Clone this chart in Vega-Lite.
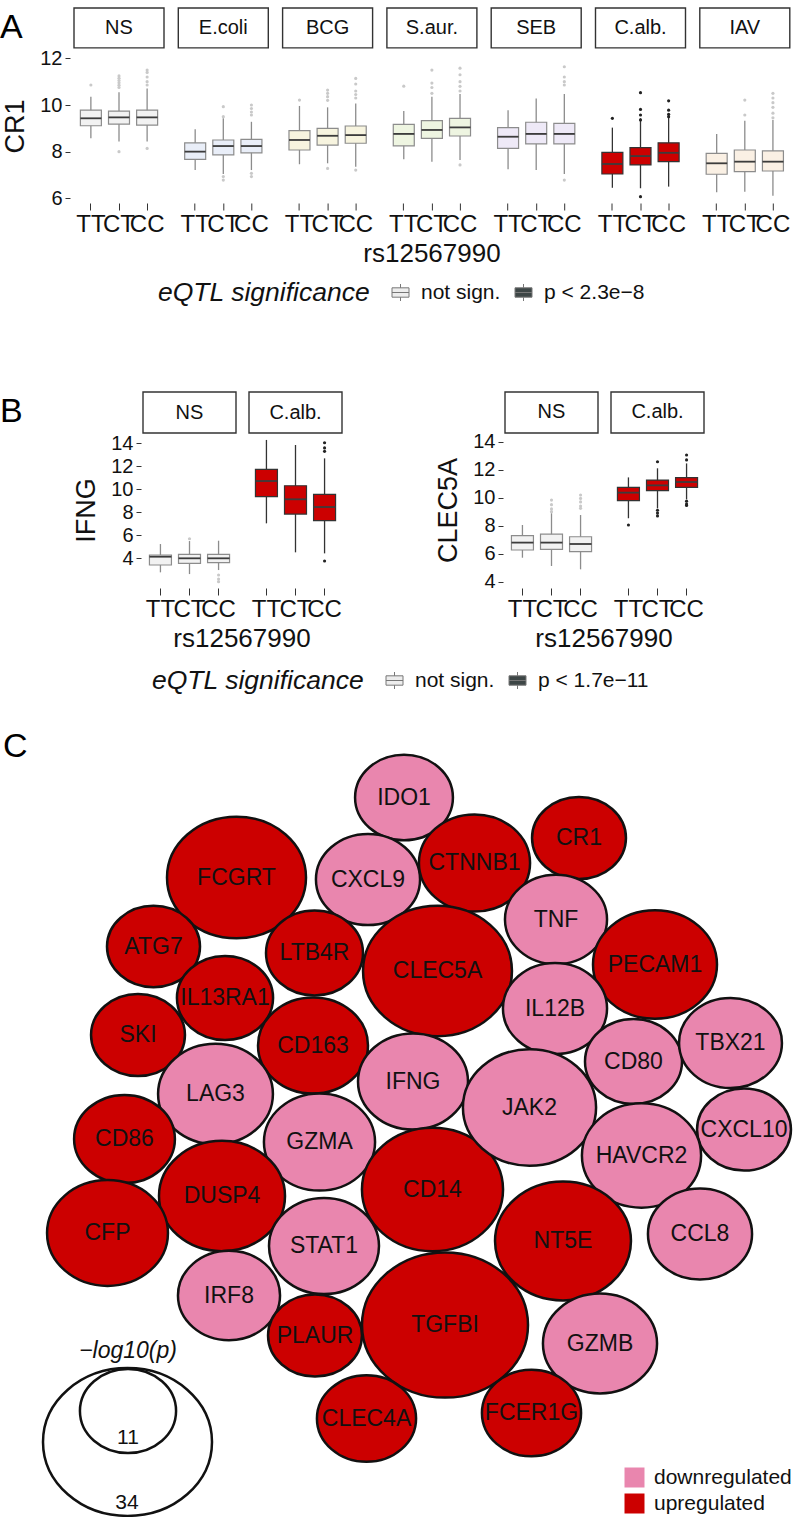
{
"$schema": "https://vega.github.io/schema/vega-lite/v6.json",
"padding": {"left": 0, "top": 7, "right": 0, "bottom": 0},
"config": {"view": {"stroke": null}, "font": "Liberation Sans", "title": {"fontWeight": "normal", "color": "#000"}},
"spacing": 0,
"resolve": {"scale": {"x": "independent", "y": "independent", "fill": "independent", "stroke": "independent", "color": "independent", "size": "independent"}},
"datasets": {
"A": [
{"k":"b","stim":"NS","geno":"TT","sig":"no","lo":8.57,"q1":9.11,"med":9.43,"q3":9.78,"hi":10.35},
{"k":"b","stim":"NS","geno":"CT","sig":"no","lo":8.43,"q1":9.18,"med":9.47,"q3":9.74,"hi":10.55},
{"k":"b","stim":"NS","geno":"CC","sig":"no","lo":8.43,"q1":9.14,"med":9.47,"q3":9.78,"hi":10.71},
{"k":"b","stim":"E.coli","geno":"TT","sig":"no","lo":7.21,"q1":7.67,"med":8.0,"q3":8.38,"hi":8.96},
{"k":"b","stim":"E.coli","geno":"CT","sig":"no","lo":7.04,"q1":7.86,"med":8.24,"q3":8.5,"hi":9.43},
{"k":"b","stim":"E.coli","geno":"CC","sig":"no","lo":7.21,"q1":7.95,"med":8.24,"q3":8.53,"hi":9.28},
{"k":"b","stim":"BCG","geno":"TT","sig":"no","lo":7.46,"q1":8.07,"med":8.5,"q3":8.9,"hi":9.96},
{"k":"b","stim":"BCG","geno":"CT","sig":"no","lo":7.5,"q1":8.28,"med":8.68,"q3":9.0,"hi":9.9},
{"k":"b","stim":"BCG","geno":"CC","sig":"no","lo":7.35,"q1":8.36,"med":8.71,"q3":9.1,"hi":10.07},
{"k":"b","stim":"S.aur.","geno":"TT","sig":"no","lo":7.67,"q1":8.25,"med":8.76,"q3":9.17,"hi":9.74},
{"k":"b","stim":"S.aur.","geno":"CT","sig":"no","lo":7.57,"q1":8.57,"med":8.93,"q3":9.33,"hi":10.35},
{"k":"b","stim":"S.aur.","geno":"CC","sig":"no","lo":7.64,"q1":8.67,"med":9.04,"q3":9.43,"hi":10.47},
{"k":"b","stim":"SEB","geno":"TT","sig":"no","lo":7.24,"q1":8.14,"med":8.64,"q3":9.03,"hi":9.78},
{"k":"b","stim":"SEB","geno":"CT","sig":"no","lo":7.21,"q1":8.33,"med":8.76,"q3":9.26,"hi":10.28},
{"k":"b","stim":"SEB","geno":"CC","sig":"no","lo":7.04,"q1":8.33,"med":8.76,"q3":9.21,"hi":10.47},
{"k":"b","stim":"C.alb.","geno":"TT","sig":"yes","lo":6.45,"q1":7.04,"med":7.47,"q3":7.97,"hi":9.03},
{"k":"b","stim":"C.alb.","geno":"CT","sig":"yes","lo":6.43,"q1":7.43,"med":7.81,"q3":8.17,"hi":9.43},
{"k":"b","stim":"C.alb.","geno":"CC","sig":"yes","lo":6.5,"q1":7.57,"med":7.95,"q3":8.38,"hi":9.57},
{"k":"b","stim":"IAV","geno":"TT","sig":"no","lo":6.26,"q1":7.03,"med":7.5,"q3":7.93,"hi":8.76},
{"k":"b","stim":"IAV","geno":"CT","sig":"no","lo":6.28,"q1":7.14,"med":7.57,"q3":8.07,"hi":9.33},
{"k":"b","stim":"IAV","geno":"CC","sig":"no","lo":6.11,"q1":7.17,"med":7.57,"q3":8.03,"hi":9.36},
{"k":"o","stim":"NS","geno":"TT","sig":"no","v":10.86},
{"k":"o","stim":"NS","geno":"CT","sig":"no","v":8.0},
{"k":"o","stim":"NS","geno":"CT","sig":"no","v":10.75},
{"k":"o","stim":"NS","geno":"CT","sig":"no","v":10.85},
{"k":"o","stim":"NS","geno":"CT","sig":"no","v":10.95},
{"k":"o","stim":"NS","geno":"CT","sig":"no","v":11.05},
{"k":"o","stim":"NS","geno":"CT","sig":"no","v":11.15},
{"k":"o","stim":"NS","geno":"CT","sig":"no","v":11.25},
{"k":"o","stim":"NS","geno":"CC","sig":"no","v":8.14},
{"k":"o","stim":"NS","geno":"CC","sig":"no","v":10.86},
{"k":"o","stim":"NS","geno":"CC","sig":"no","v":11.0},
{"k":"o","stim":"NS","geno":"CC","sig":"no","v":11.2},
{"k":"o","stim":"NS","geno":"CC","sig":"no","v":11.4},
{"k":"o","stim":"NS","geno":"CC","sig":"no","v":11.5},
{"k":"o","stim":"E.coli","geno":"CT","sig":"no","v":9.5},
{"k":"o","stim":"E.coli","geno":"CT","sig":"no","v":9.93},
{"k":"o","stim":"E.coli","geno":"CT","sig":"no","v":6.93},
{"k":"o","stim":"E.coli","geno":"CT","sig":"no","v":6.78},
{"k":"o","stim":"E.coli","geno":"CC","sig":"no","v":9.57},
{"k":"o","stim":"E.coli","geno":"CC","sig":"no","v":9.7},
{"k":"o","stim":"E.coli","geno":"CC","sig":"no","v":9.85},
{"k":"o","stim":"E.coli","geno":"CC","sig":"no","v":10.0},
{"k":"o","stim":"E.coli","geno":"CC","sig":"no","v":7.07},
{"k":"o","stim":"E.coli","geno":"CC","sig":"no","v":6.93},
{"k":"o","stim":"BCG","geno":"TT","sig":"no","v":10.21},
{"k":"o","stim":"BCG","geno":"CT","sig":"no","v":10.2},
{"k":"o","stim":"BCG","geno":"CT","sig":"no","v":10.36},
{"k":"o","stim":"BCG","geno":"CT","sig":"no","v":10.5},
{"k":"o","stim":"BCG","geno":"CT","sig":"no","v":10.64},
{"k":"o","stim":"BCG","geno":"CT","sig":"no","v":7.28},
{"k":"o","stim":"BCG","geno":"CC","sig":"no","v":10.3},
{"k":"o","stim":"BCG","geno":"CC","sig":"no","v":10.45},
{"k":"o","stim":"BCG","geno":"CC","sig":"no","v":10.6},
{"k":"o","stim":"BCG","geno":"CC","sig":"no","v":10.9},
{"k":"o","stim":"BCG","geno":"CC","sig":"no","v":11.14},
{"k":"o","stim":"BCG","geno":"CC","sig":"no","v":7.21},
{"k":"o","stim":"S.aur.","geno":"TT","sig":"no","v":10.81},
{"k":"o","stim":"S.aur.","geno":"CT","sig":"no","v":10.5},
{"k":"o","stim":"S.aur.","geno":"CT","sig":"no","v":10.75},
{"k":"o","stim":"S.aur.","geno":"CT","sig":"no","v":10.94},
{"k":"o","stim":"S.aur.","geno":"CT","sig":"no","v":11.5},
{"k":"o","stim":"S.aur.","geno":"CC","sig":"no","v":10.6},
{"k":"o","stim":"S.aur.","geno":"CC","sig":"no","v":10.8},
{"k":"o","stim":"S.aur.","geno":"CC","sig":"no","v":11.0},
{"k":"o","stim":"S.aur.","geno":"CC","sig":"no","v":11.3},
{"k":"o","stim":"S.aur.","geno":"CC","sig":"no","v":11.58},
{"k":"o","stim":"S.aur.","geno":"CC","sig":"no","v":7.43},
{"k":"o","stim":"SEB","geno":"CC","sig":"no","v":10.86},
{"k":"o","stim":"SEB","geno":"CC","sig":"no","v":11.0},
{"k":"o","stim":"SEB","geno":"CC","sig":"no","v":11.2},
{"k":"o","stim":"SEB","geno":"CC","sig":"no","v":11.64},
{"k":"o","stim":"SEB","geno":"CC","sig":"no","v":6.78},
{"k":"o","stim":"C.alb.","geno":"TT","sig":"yes","v":9.43},
{"k":"o","stim":"C.alb.","geno":"CT","sig":"yes","v":9.36},
{"k":"o","stim":"C.alb.","geno":"CT","sig":"yes","v":9.57},
{"k":"o","stim":"C.alb.","geno":"CT","sig":"yes","v":9.81},
{"k":"o","stim":"C.alb.","geno":"CT","sig":"yes","v":10.53},
{"k":"o","stim":"C.alb.","geno":"CT","sig":"yes","v":6.07},
{"k":"o","stim":"C.alb.","geno":"CC","sig":"yes","v":9.5},
{"k":"o","stim":"C.alb.","geno":"CC","sig":"yes","v":9.6},
{"k":"o","stim":"C.alb.","geno":"CC","sig":"yes","v":9.78},
{"k":"o","stim":"C.alb.","geno":"CC","sig":"yes","v":10.18},
{"k":"o","stim":"IAV","geno":"CT","sig":"no","v":9.57},
{"k":"o","stim":"IAV","geno":"CT","sig":"no","v":10.21},
{"k":"o","stim":"IAV","geno":"CC","sig":"no","v":9.45},
{"k":"o","stim":"IAV","geno":"CC","sig":"no","v":9.65},
{"k":"o","stim":"IAV","geno":"CC","sig":"no","v":9.9},
{"k":"o","stim":"IAV","geno":"CC","sig":"no","v":10.1},
{"k":"o","stim":"IAV","geno":"CC","sig":"no","v":10.3},
{"k":"o","stim":"IAV","geno":"CC","sig":"no","v":10.5}
],
"B1": [
{"k":"b","stim":"NS","geno":"TT","sig":"no","lo":2.78,"q1":3.42,"med":4.14,"q3":4.29,"hi":5.24},
{"k":"b","stim":"NS","geno":"CT","sig":"no","lo":2.63,"q1":3.56,"med":4.0,"q3":4.35,"hi":5.5},
{"k":"b","stim":"NS","geno":"CC","sig":"no","lo":2.98,"q1":3.62,"med":4.0,"q3":4.35,"hi":5.53},
{"k":"b","stim":"C.alb.","geno":"TT","sig":"yes","lo":7.04,"q1":9.36,"med":10.72,"q3":11.74,"hi":14.29},
{"k":"b","stim":"C.alb.","geno":"CT","sig":"yes","lo":4.52,"q1":7.85,"med":9.13,"q3":10.31,"hi":13.85},
{"k":"b","stim":"C.alb.","geno":"CC","sig":"yes","lo":4.43,"q1":7.27,"med":8.46,"q3":9.56,"hi":12.69},
{"k":"o","stim":"NS","geno":"CT","sig":"no","v":5.7},
{"k":"o","stim":"NS","geno":"CC","sig":"no","v":2.55},
{"k":"o","stim":"NS","geno":"CC","sig":"no","v":2.2},
{"k":"o","stim":"NS","geno":"CC","sig":"no","v":1.97},
{"k":"o","stim":"C.alb.","geno":"CC","sig":"yes","v":13.3},
{"k":"o","stim":"C.alb.","geno":"CC","sig":"yes","v":13.6},
{"k":"o","stim":"C.alb.","geno":"CC","sig":"yes","v":14.05},
{"k":"o","stim":"C.alb.","geno":"CC","sig":"yes","v":3.77}
],
"B2": [
{"k":"b","stim":"NS","geno":"TT","sig":"no","lo":5.71,"q1":6.26,"med":6.79,"q3":7.29,"hi":8.05},
{"k":"b","stim":"NS","geno":"CT","sig":"no","lo":5.12,"q1":6.31,"med":6.79,"q3":7.39,"hi":8.89},
{"k":"b","stim":"NS","geno":"CC","sig":"no","lo":4.88,"q1":6.14,"med":6.69,"q3":7.21,"hi":8.76},
{"k":"b","stim":"C.alb.","geno":"TT","sig":"yes","lo":8.53,"q1":9.79,"med":10.36,"q3":10.74,"hi":11.45},
{"k":"b","stim":"C.alb.","geno":"CT","sig":"yes","lo":9.24,"q1":10.5,"med":10.88,"q3":11.26,"hi":12.1},
{"k":"b","stim":"C.alb.","geno":"CC","sig":"yes","lo":9.89,"q1":10.74,"med":11.12,"q3":11.43,"hi":12.45},
{"k":"o","stim":"NS","geno":"CT","sig":"no","v":9.0},
{"k":"o","stim":"NS","geno":"CT","sig":"no","v":9.2},
{"k":"o","stim":"NS","geno":"CT","sig":"no","v":9.5},
{"k":"o","stim":"NS","geno":"CT","sig":"no","v":9.83},
{"k":"o","stim":"NS","geno":"CC","sig":"no","v":9.24},
{"k":"o","stim":"NS","geno":"CC","sig":"no","v":9.4},
{"k":"o","stim":"NS","geno":"CC","sig":"no","v":9.7},
{"k":"o","stim":"NS","geno":"CC","sig":"no","v":9.95},
{"k":"o","stim":"NS","geno":"CC","sig":"no","v":10.19},
{"k":"o","stim":"C.alb.","geno":"TT","sig":"yes","v":8.05},
{"k":"o","stim":"C.alb.","geno":"CT","sig":"yes","v":12.57},
{"k":"o","stim":"C.alb.","geno":"CT","sig":"yes","v":9.1},
{"k":"o","stim":"C.alb.","geno":"CT","sig":"yes","v":8.9},
{"k":"o","stim":"C.alb.","geno":"CT","sig":"yes","v":8.7},
{"k":"o","stim":"C.alb.","geno":"CC","sig":"yes","v":12.7},
{"k":"o","stim":"C.alb.","geno":"CC","sig":"yes","v":13.05},
{"k":"o","stim":"C.alb.","geno":"CC","sig":"yes","v":9.75},
{"k":"o","stim":"C.alb.","geno":"CC","sig":"yes","v":9.55},
{"k":"o","stim":"C.alb.","geno":"CC","sig":"yes","v":9.45}
],
"C": [
{"k":"g","gene":"FCGRT","dir":"upregulated","x":23.65,"y":64.05,"v":23.0},
{"k":"g","gene":"IDO1","dir":"downregulated","x":40.4,"y":72.05,"v":11.4},
{"k":"g","gene":"CXCL9","dir":"downregulated","x":36.8,"y":63.85,"v":12.9},
{"k":"g","gene":"ATG7","dir":"upregulated","x":15.35,"y":57.15,"v":10.3},
{"k":"g","gene":"LTB4R","dir":"upregulated","x":31.45,"y":56.5,"v":11.2},
{"k":"g","gene":"CTNNB1","dir":"upregulated","x":47.45,"y":65.5,"v":14.7},
{"k":"g","gene":"CR1","dir":"upregulated","x":57.9,"y":68.0,"v":10.5},
{"k":"g","gene":"TNF","dir":"downregulated","x":55.6,"y":59.85,"v":12.4},
{"k":"g","gene":"PECAM1","dir":"upregulated","x":65.5,"y":55.35,"v":18.3},
{"k":"g","gene":"CLEC5A","dir":"upregulated","x":43.75,"y":54.7,"v":26.4},
{"k":"g","gene":"IL13RA1","dir":"upregulated","x":22.5,"y":52.0,"v":11.0},
{"k":"g","gene":"SKI","dir":"upregulated","x":13.8,"y":48.3,"v":10.5},
{"k":"g","gene":"CD163","dir":"upregulated","x":31.3,"y":47.25,"v":14.4},
{"k":"g","gene":"LAG3","dir":"downregulated","x":21.55,"y":42.4,"v":15.7},
{"k":"g","gene":"IFNG","dir":"downregulated","x":41.3,"y":43.65,"v":14.4},
{"k":"g","gene":"CD86","dir":"upregulated","x":12.45,"y":37.9,"v":12.1},
{"k":"g","gene":"GZMA","dir":"downregulated","x":31.95,"y":37.6,"v":14.7},
{"k":"g","gene":"DUSP4","dir":"upregulated","x":22.2,"y":32.2,"v":18.9},
{"k":"g","gene":"CFP","dir":"upregulated","x":10.75,"y":28.5,"v":17.4},
{"k":"g","gene":"STAT1","dir":"downregulated","x":32.4,"y":27.2,"v":14.4},
{"k":"g","gene":"CD14","dir":"upregulated","x":43.25,"y":32.85,"v":23.7},
{"k":"g","gene":"IL12B","dir":"downregulated","x":55.5,"y":50.95,"v":12.9},
{"k":"g","gene":"CD80","dir":"downregulated","x":63.35,"y":45.65,"v":11.2},
{"k":"g","gene":"TBX21","dir":"downregulated","x":73.05,"y":47.5,"v":12.6},
{"k":"g","gene":"JAK2","dir":"downregulated","x":52.95,"y":41.05,"v":21.1},
{"k":"g","gene":"CXCL10","dir":"downregulated","x":74.4,"y":38.85,"v":10.5},
{"k":"g","gene":"HAVCR2","dir":"downregulated","x":64.15,"y":36.25,"v":16.9},
{"k":"g","gene":"NT5E","dir":"upregulated","x":56.3,"y":27.7,"v":22.0},
{"k":"g","gene":"CCL8","dir":"downregulated","x":70.0,"y":28.4,"v":12.9},
{"k":"g","gene":"IRF8","dir":"downregulated","x":22.9,"y":22.25,"v":12.4},
{"k":"g","gene":"PLAUR","dir":"upregulated","x":31.5,"y":18.25,"v":10.5},
{"k":"g","gene":"TGFBI","dir":"upregulated","x":44.5,"y":19.3,"v":32.8},
{"k":"g","gene":"GZMB","dir":"downregulated","x":60.0,"y":17.45,"v":15.5},
{"k":"g","gene":"CLEC4A","dir":"upregulated","x":36.65,"y":9.95,"v":11.7},
{"k":"g","gene":"FCER1G","dir":"upregulated","x":53.15,"y":10.5,"v":11.7},
{"k":"s","x":12.75,"y":7.6,"v":34},
{"k":"s","x":12.8,"y":10.7,"v":11},
{"k":"sl","lab":"34","x":12.7,"y":1.5},
{"k":"sl","lab":"11","x":12.8,"y":8.0},
{"k":"st","lab":"−log10(p)","x":12.8,"y":16.7}
]
},
"vconcat": [
{
 "title": {"text": "A", "anchor": "start", "fontSize": 34, "offset": -38, "dx": 0},
 "spacing": 0,
 "hconcat": [
 {"width": 1, "height": 10, "data": {"values": [{"a": 1}]}, "transform": [{"filter": "false"}], "mark": "point"},
 {
 "data": {"name": "A"},
 "facet": {"column": {"field": "stim", "type": "nominal", "sort": ["NS","E.coli","BCG","S.aur.","SEB","C.alb.","IAV"], "header": {"title": "rs12567990", "titleOrient": "bottom", "labels": false, "titleFontSize": 26, "titleFontWeight": "normal", "titleColor": "#111", "titlePadding": -5}}},
 "spacing": 12.3,
 "spec": {
  "width": 90, "height": 152,
  "layer": [
   {"transform": [{"filter": "datum.k=='b' && datum.geno=='TT'"}],
    "mark": {"type": "rect", "fill": "white", "stroke": "#333", "strokeWidth": 1.4},
    "encoding": {
     "y": {"datum": 12.45, "type": "quantitative", "scale": {"domain": [5.84, 12.36], "nice": false, "zero": false}, "axis": {"title": "CR1", "values": [6,8,10,12], "titleFontSize": 27, "titleFontWeight": "normal", "titleColor": "#111", "labelFontSize": 20, "labelColor": "#111", "domain": false, "grid": false, "tickSize": 5, "tickColor": "#333", "offset": 3, "labelPadding": 3, "titlePadding": 10}},
     "y2": {"datum": 14.16}}},
   {"transform": [{"filter": "datum.k=='b' && datum.geno=='TT'"}],
    "mark": {"type": "text", "fontSize": 20, "color": "#111", "baseline": "middle"},
    "encoding": {
     "y": {"datum": 13.3, "type": "quantitative", "scale": {"domain": [5.84, 12.36], "nice": false, "zero": false}, "axis": {"title": "CR1", "values": [6,8,10,12], "titleFontSize": 27, "titleFontWeight": "normal", "titleColor": "#111", "labelFontSize": 20, "labelColor": "#111", "domain": false, "grid": false, "tickSize": 5, "tickColor": "#333", "offset": 3, "labelPadding": 3, "titlePadding": 10}},
     "text": {"field": "stim"}}},
   {"transform": [{"filter": "datum.k=='b'"}],
    "mark": {"type": "rule", "strokeWidth": 1.3},
    "encoding": {
     "x": {"field": "geno", "type": "nominal", "sort": ["TT","CT","CC"], "scale": {"paddingInner": 0, "paddingOuter": 0.1}, "axis": {"title": null, "labelAngle": 0, "labelFontSize": 24, "labelColor": "#111", "domain": false, "tickSize": 7, "tickColor": "#333", "labelPadding": 2, "offset": 1, "labelOverlap": false}},
     "y": {"field": "lo", "type": "quantitative", "scale": {"domain": [5.84, 12.36], "nice": false, "zero": false}, "axis": {"title": "CR1", "values": [6,8,10,12], "titleFontSize": 27, "titleFontWeight": "normal", "titleColor": "#111", "labelFontSize": 20, "labelColor": "#111", "domain": false, "grid": false, "tickSize": 5, "tickColor": "#333", "offset": 3, "labelPadding": 3, "titlePadding": 10}},
     "y2": {"field": "hi"},
     "stroke": {"field": "sig", "type": "nominal", "scale": {"domain": ["no","yes"], "range": ["#8c8c8c", "#333333"]}, "legend": null}}},
   {"transform": [{"filter": "datum.k=='b'"}],
    "mark": {"type": "bar", "size": 21, "strokeWidth": 1.2},
    "encoding": {
     "x": {"field": "geno", "type": "nominal", "sort": ["TT","CT","CC"], "scale": {"paddingInner": 0, "paddingOuter": 0.1}, "axis": {"title": null, "labelAngle": 0, "labelFontSize": 24, "labelColor": "#111", "domain": false, "tickSize": 7, "tickColor": "#333", "labelPadding": 2, "offset": 1, "labelOverlap": false}},
     "y": {"field": "q1", "type": "quantitative", "scale": {"domain": [5.84, 12.36], "nice": false, "zero": false}, "axis": {"title": "CR1", "values": [6,8,10,12], "titleFontSize": 27, "titleFontWeight": "normal", "titleColor": "#111", "labelFontSize": 20, "labelColor": "#111", "domain": false, "grid": false, "tickSize": 5, "tickColor": "#333", "offset": 3, "labelPadding": 3, "titlePadding": 10}},
     "y2": {"field": "q3"},
     "fill": {"field": "stim", "type": "nominal", "scale": {"domain": ["NS","E.coli","BCG","S.aur.","SEB","C.alb.","IAV"], "range": ["#f2f2f2","#e9eef8","#f7f4df","#eef5e1","#eee9f7","#cc0000","#faf0e4"]}, "legend": null},
     "stroke": {"field": "sig", "type": "nominal", "scale": {"domain": ["no","yes"], "range": ["#8c8c8c", "#333333"]}, "legend": null}}},
   {"transform": [{"filter": "datum.k=='b'"}],
    "mark": {"type": "tick", "orient": "horizontal", "size": 21, "thickness": 1.8, "color": "#3c3c3c", "opacity": 1},
    "encoding": {
     "x": {"field": "geno", "type": "nominal", "sort": ["TT","CT","CC"], "scale": {"paddingInner": 0, "paddingOuter": 0.1}, "axis": {"title": null, "labelAngle": 0, "labelFontSize": 24, "labelColor": "#111", "domain": false, "tickSize": 7, "tickColor": "#333", "labelPadding": 2, "offset": 1, "labelOverlap": false}},
     "y": {"field": "med", "type": "quantitative", "scale": {"domain": [5.84, 12.36], "nice": false, "zero": false}, "axis": {"title": "CR1", "values": [6,8,10,12], "titleFontSize": 27, "titleFontWeight": "normal", "titleColor": "#111", "labelFontSize": 20, "labelColor": "#111", "domain": false, "grid": false, "tickSize": 5, "tickColor": "#333", "offset": 3, "labelPadding": 3, "titlePadding": 10}}}},
   {"transform": [{"filter": "datum.k=='o'"}],
    "mark": {"type": "circle", "size": 10, "opacity": 1},
    "encoding": {
     "x": {"field": "geno", "type": "nominal", "sort": ["TT","CT","CC"], "scale": {"paddingInner": 0, "paddingOuter": 0.1}, "axis": {"title": null, "labelAngle": 0, "labelFontSize": 24, "labelColor": "#111", "domain": false, "tickSize": 7, "tickColor": "#333", "labelPadding": 2, "offset": 1, "labelOverlap": false}},
     "y": {"field": "v", "type": "quantitative", "scale": {"domain": [5.84, 12.36], "nice": false, "zero": false}, "axis": {"title": "CR1", "values": [6,8,10,12], "titleFontSize": 27, "titleFontWeight": "normal", "titleColor": "#111", "labelFontSize": 20, "labelColor": "#111", "domain": false, "grid": false, "tickSize": 5, "tickColor": "#333", "offset": 3, "labelPadding": 3, "titlePadding": 10}},
     "color": {"field": "sig", "type": "nominal", "scale": {"domain": ["no","yes"], "range": ["#c9c9c9", "#222222"]}, "legend": null}}}
  ]
 }
 }
 ]
},
{
 "width": 796, "height": 124,
 "data": {"values": [{"sig": "not sign."}]},
 "transform": [{"filter": "false"}],
 "mark": {"type": "square", "opacity": 1},
 "encoding": {"fill": {"field": "sig", "type": "nominal", "scale": {"domain": ["not sign.", "p < 2.3e−8"], "range": ["#ededed", "#3d4646"]},
  "legend": {"orient": "none", "legendX": 158, "legendY": 15, "direction": "horizontal", "title": "eQTL significance", "titleLimit": 400, "titleOrient": "left", "titleFontStyle": "italic", "titleFontSize": 26.5, "titleFontWeight": "normal", "titleColor": "#111", "labelFontSize": 21, "labelColor": "#111", "symbolType": "M-1,-0.55H1V0.55H-1Z M0,-0.55V-1 M0,0.55V1 M-1,0H1", "symbolSize": 289, "symbolStrokeColor": "#777", "symbolStrokeWidth": 1, "symbolOpacity": 1, "columnPadding": 12, "titlePadding": 19, "labelOffset": 10}}}
},
{
 "title": {"text": "B", "anchor": "start", "fontSize": 34, "offset": -38, "dx": 0},
 "spacing": 0,
 "hconcat": [
 {"width": 72, "height": 10, "data": {"values": [{"a": 1}]}, "transform": [{"filter": "false"}], "mark": "point"},
 {
 "spacing": 91,
 "resolve": {"scale": {"y": "independent", "x": "independent"}},
 "hconcat": [
  {
   "data": {"name": "B1"},
   "facet": {"column": {"field": "stim", "type": "nominal", "sort": ["NS","C.alb."], "header": {"title": "rs12567990", "titleOrient": "bottom", "labels": false, "titleFontSize": 26, "titleFontWeight": "normal", "titleColor": "#111", "titlePadding": -5}}},
   "spacing": 11,
   "spec": {
    "width": 93, "height": 150,
    "layer": [
     {"transform": [{"filter": "datum.k=='b' && datum.geno=='TT'"}],
      "mark": {"type": "rect", "fill": "white", "stroke": "#333", "strokeWidth": 1.4},
      "encoding": {
       "y": {"datum": 14.89, "type": "quantitative", "scale": {"domain": [1.68, 14.72], "nice": false, "zero": false}, "axis": {"title": "IFNG", "values": [4,6,8,10,12,14], "titleFontSize": 27, "titleFontWeight": "normal", "titleColor": "#111", "labelFontSize": 20, "labelColor": "#111", "domain": false, "grid": false, "tickSize": 5, "tickColor": "#333", "offset": 1, "labelPadding": 3, "titlePadding": 10}},
       "y2": {"datum": 18.46}}},
     {"transform": [{"filter": "datum.k=='b' && datum.geno=='TT'"}],
      "mark": {"type": "text", "fontSize": 20, "color": "#111", "baseline": "middle"},
      "encoding": {
       "y": {"datum": 16.67, "type": "quantitative", "scale": {"domain": [1.68, 14.72], "nice": false, "zero": false}, "axis": {"title": "IFNG", "values": [4,6,8,10,12,14], "titleFontSize": 27, "titleFontWeight": "normal", "titleColor": "#111", "labelFontSize": 20, "labelColor": "#111", "domain": false, "grid": false, "tickSize": 5, "tickColor": "#333", "offset": 1, "labelPadding": 3, "titlePadding": 10}},
       "text": {"field": "stim"}}},
     {"transform": [{"filter": "datum.k=='b'"}],
      "mark": {"type": "rule", "strokeWidth": 1.3},
      "encoding": {
       "x": {"field": "geno", "type": "nominal", "sort": ["TT","CT","CC"], "scale": {"paddingInner": 0, "paddingOuter": 0.1}, "axis": {"title": null, "labelAngle": 0, "labelFontSize": 24, "labelColor": "#111", "domain": false, "tickSize": 7, "tickColor": "#333", "labelPadding": 2, "offset": 3, "labelOverlap": false}},
       "y": {"field": "lo", "type": "quantitative", "scale": {"domain": [1.68, 14.72], "nice": false, "zero": false}, "axis": {"title": "IFNG", "values": [4,6,8,10,12,14], "titleFontSize": 27, "titleFontWeight": "normal", "titleColor": "#111", "labelFontSize": 20, "labelColor": "#111", "domain": false, "grid": false, "tickSize": 5, "tickColor": "#333", "offset": 1, "labelPadding": 3, "titlePadding": 10}},
       "y2": {"field": "hi"},
       "stroke": {"field": "sig", "type": "nominal", "scale": {"domain": ["no","yes"], "range": ["#8c8c8c", "#333333"]}, "legend": null}}},
     {"transform": [{"filter": "datum.k=='b'"}],
      "mark": {"type": "bar", "size": 22, "strokeWidth": 1.2},
      "encoding": {
       "x": {"field": "geno", "type": "nominal", "sort": ["TT","CT","CC"], "scale": {"paddingInner": 0, "paddingOuter": 0.1}, "axis": {"title": null, "labelAngle": 0, "labelFontSize": 24, "labelColor": "#111", "domain": false, "tickSize": 7, "tickColor": "#333", "labelPadding": 2, "offset": 3, "labelOverlap": false}},
       "y": {"field": "q1", "type": "quantitative", "scale": {"domain": [1.68, 14.72], "nice": false, "zero": false}, "axis": {"title": "IFNG", "values": [4,6,8,10,12,14], "titleFontSize": 27, "titleFontWeight": "normal", "titleColor": "#111", "labelFontSize": 20, "labelColor": "#111", "domain": false, "grid": false, "tickSize": 5, "tickColor": "#333", "offset": 1, "labelPadding": 3, "titlePadding": 10}},
       "y2": {"field": "q3"},
       "fill": {"field": "stim", "type": "nominal", "scale": {"domain": ["NS","C.alb."], "range": ["#f2f2f2","#cc0000"]}, "legend": null},
       "stroke": {"field": "sig", "type": "nominal", "scale": {"domain": ["no","yes"], "range": ["#8c8c8c", "#333333"]}, "legend": null}}},
     {"transform": [{"filter": "datum.k=='b'"}],
      "mark": {"type": "tick", "orient": "horizontal", "size": 22, "thickness": 1.8, "color": "#3c3c3c", "opacity": 1},
      "encoding": {
       "x": {"field": "geno", "type": "nominal", "sort": ["TT","CT","CC"], "scale": {"paddingInner": 0, "paddingOuter": 0.1}, "axis": {"title": null, "labelAngle": 0, "labelFontSize": 24, "labelColor": "#111", "domain": false, "tickSize": 7, "tickColor": "#333", "labelPadding": 2, "offset": 3, "labelOverlap": false}},
       "y": {"field": "med", "type": "quantitative", "scale": {"domain": [1.68, 14.72], "nice": false, "zero": false}, "axis": {"title": "IFNG", "values": [4,6,8,10,12,14], "titleFontSize": 27, "titleFontWeight": "normal", "titleColor": "#111", "labelFontSize": 20, "labelColor": "#111", "domain": false, "grid": false, "tickSize": 5, "tickColor": "#333", "offset": 1, "labelPadding": 3, "titlePadding": 10}}}},
     {"transform": [{"filter": "datum.k=='o'"}],
      "mark": {"type": "circle", "size": 10, "opacity": 1},
      "encoding": {
       "x": {"field": "geno", "type": "nominal", "sort": ["TT","CT","CC"], "scale": {"paddingInner": 0, "paddingOuter": 0.1}, "axis": {"title": null, "labelAngle": 0, "labelFontSize": 24, "labelColor": "#111", "domain": false, "tickSize": 7, "tickColor": "#333", "labelPadding": 2, "offset": 3, "labelOverlap": false}},
       "y": {"field": "v", "type": "quantitative", "scale": {"domain": [1.68, 14.72], "nice": false, "zero": false}, "axis": {"title": "IFNG", "values": [4,6,8,10,12,14], "titleFontSize": 27, "titleFontWeight": "normal", "titleColor": "#111", "labelFontSize": 20, "labelColor": "#111", "domain": false, "grid": false, "tickSize": 5, "tickColor": "#333", "offset": 1, "labelPadding": 3, "titlePadding": 10}},
       "color": {"field": "sig", "type": "nominal", "scale": {"domain": ["no","yes"], "range": ["#c9c9c9", "#222222"]}, "legend": null}}}
    ]
   }
  },
  {
   "data": {"name": "B2"},
   "facet": {"column": {"field": "stim", "type": "nominal", "sort": ["NS","C.alb."], "header": {"title": "rs12567990", "titleOrient": "bottom", "labels": false, "titleFontSize": 26, "titleFontWeight": "normal", "titleColor": "#111", "titlePadding": -5}}},
   "spacing": 11,
   "spec": {
    "width": 93, "height": 150,
    "layer": [
     {"transform": [{"filter": "datum.k=='b' && datum.geno=='TT'"}],
      "mark": {"type": "rect", "fill": "white", "stroke": "#333", "strokeWidth": 1.4},
      "encoding": {
       "y": {"datum": 14.62, "type": "quantitative", "scale": {"domain": [3.76, 14.48], "nice": false, "zero": false}, "axis": {"title": "CLEC5A", "values": [4,6,8,10,12,14], "titleFontSize": 27, "titleFontWeight": "normal", "titleColor": "#111", "labelFontSize": 20, "labelColor": "#111", "domain": false, "grid": false, "tickSize": 5, "tickColor": "#333", "offset": 1, "labelPadding": 3, "titlePadding": 10}},
       "y2": {"datum": 17.55}}},
     {"transform": [{"filter": "datum.k=='b' && datum.geno=='TT'"}],
      "mark": {"type": "text", "fontSize": 20, "color": "#111", "baseline": "middle"},
      "encoding": {
       "y": {"datum": 16.09, "type": "quantitative", "scale": {"domain": [3.76, 14.48], "nice": false, "zero": false}, "axis": {"title": "CLEC5A", "values": [4,6,8,10,12,14], "titleFontSize": 27, "titleFontWeight": "normal", "titleColor": "#111", "labelFontSize": 20, "labelColor": "#111", "domain": false, "grid": false, "tickSize": 5, "tickColor": "#333", "offset": 1, "labelPadding": 3, "titlePadding": 10}},
       "text": {"field": "stim"}}},
     {"transform": [{"filter": "datum.k=='b'"}],
      "mark": {"type": "rule", "strokeWidth": 1.3},
      "encoding": {
       "x": {"field": "geno", "type": "nominal", "sort": ["TT","CT","CC"], "scale": {"paddingInner": 0, "paddingOuter": 0.1}, "axis": {"title": null, "labelAngle": 0, "labelFontSize": 24, "labelColor": "#111", "domain": false, "tickSize": 7, "tickColor": "#333", "labelPadding": 2, "offset": 3, "labelOverlap": false}},
       "y": {"field": "lo", "type": "quantitative", "scale": {"domain": [3.76, 14.48], "nice": false, "zero": false}, "axis": {"title": "CLEC5A", "values": [4,6,8,10,12,14], "titleFontSize": 27, "titleFontWeight": "normal", "titleColor": "#111", "labelFontSize": 20, "labelColor": "#111", "domain": false, "grid": false, "tickSize": 5, "tickColor": "#333", "offset": 1, "labelPadding": 3, "titlePadding": 10}},
       "y2": {"field": "hi"},
       "stroke": {"field": "sig", "type": "nominal", "scale": {"domain": ["no","yes"], "range": ["#8c8c8c", "#333333"]}, "legend": null}}},
     {"transform": [{"filter": "datum.k=='b'"}],
      "mark": {"type": "bar", "size": 22, "strokeWidth": 1.2},
      "encoding": {
       "x": {"field": "geno", "type": "nominal", "sort": ["TT","CT","CC"], "scale": {"paddingInner": 0, "paddingOuter": 0.1}, "axis": {"title": null, "labelAngle": 0, "labelFontSize": 24, "labelColor": "#111", "domain": false, "tickSize": 7, "tickColor": "#333", "labelPadding": 2, "offset": 3, "labelOverlap": false}},
       "y": {"field": "q1", "type": "quantitative", "scale": {"domain": [3.76, 14.48], "nice": false, "zero": false}, "axis": {"title": "CLEC5A", "values": [4,6,8,10,12,14], "titleFontSize": 27, "titleFontWeight": "normal", "titleColor": "#111", "labelFontSize": 20, "labelColor": "#111", "domain": false, "grid": false, "tickSize": 5, "tickColor": "#333", "offset": 1, "labelPadding": 3, "titlePadding": 10}},
       "y2": {"field": "q3"},
       "fill": {"field": "stim", "type": "nominal", "scale": {"domain": ["NS","C.alb."], "range": ["#f2f2f2","#cc0000"]}, "legend": null},
       "stroke": {"field": "sig", "type": "nominal", "scale": {"domain": ["no","yes"], "range": ["#8c8c8c", "#333333"]}, "legend": null}}},
     {"transform": [{"filter": "datum.k=='b'"}],
      "mark": {"type": "tick", "orient": "horizontal", "size": 22, "thickness": 1.8, "color": "#3c3c3c", "opacity": 1},
      "encoding": {
       "x": {"field": "geno", "type": "nominal", "sort": ["TT","CT","CC"], "scale": {"paddingInner": 0, "paddingOuter": 0.1}, "axis": {"title": null, "labelAngle": 0, "labelFontSize": 24, "labelColor": "#111", "domain": false, "tickSize": 7, "tickColor": "#333", "labelPadding": 2, "offset": 3, "labelOverlap": false}},
       "y": {"field": "med", "type": "quantitative", "scale": {"domain": [3.76, 14.48], "nice": false, "zero": false}, "axis": {"title": "CLEC5A", "values": [4,6,8,10,12,14], "titleFontSize": 27, "titleFontWeight": "normal", "titleColor": "#111", "labelFontSize": 20, "labelColor": "#111", "domain": false, "grid": false, "tickSize": 5, "tickColor": "#333", "offset": 1, "labelPadding": 3, "titlePadding": 10}}}},
     {"transform": [{"filter": "datum.k=='o'"}],
      "mark": {"type": "circle", "size": 10, "opacity": 1},
      "encoding": {
       "x": {"field": "geno", "type": "nominal", "sort": ["TT","CT","CC"], "scale": {"paddingInner": 0, "paddingOuter": 0.1}, "axis": {"title": null, "labelAngle": 0, "labelFontSize": 24, "labelColor": "#111", "domain": false, "tickSize": 7, "tickColor": "#333", "labelPadding": 2, "offset": 3, "labelOverlap": false}},
       "y": {"field": "v", "type": "quantitative", "scale": {"domain": [3.76, 14.48], "nice": false, "zero": false}, "axis": {"title": "CLEC5A", "values": [4,6,8,10,12,14], "titleFontSize": 27, "titleFontWeight": "normal", "titleColor": "#111", "labelFontSize": 20, "labelColor": "#111", "domain": false, "grid": false, "tickSize": 5, "tickColor": "#333", "offset": 1, "labelPadding": 3, "titlePadding": 10}},
       "color": {"field": "sig", "type": "nominal", "scale": {"domain": ["no","yes"], "range": ["#c9c9c9", "#222222"]}, "legend": null}}}
    ]
   }
  }
 ]
 }
 ]
},
{
 "width": 796, "height": 76,
 "data": {"values": [{"sig": "not sign."}]},
 "transform": [{"filter": "false"}],
 "mark": {"type": "square", "opacity": 1},
 "encoding": {"fill": {"field": "sig", "type": "nominal", "scale": {"domain": ["not sign.", "p < 1.7e−11"], "range": ["#ededed", "#3d4646"]},
  "legend": {"orient": "none", "legendX": 152, "legendY": 18, "direction": "horizontal", "title": "eQTL significance", "titleLimit": 400, "titleOrient": "left", "titleFontStyle": "italic", "titleFontSize": 26.5, "titleFontWeight": "normal", "titleColor": "#111", "labelFontSize": 21, "labelColor": "#111", "symbolType": "M-1,-0.55H1V0.55H-1Z M0,-0.55V-1 M0,0.55V1 M-1,0H1", "symbolSize": 289, "symbolStrokeColor": "#777", "symbolStrokeWidth": 1, "symbolOpacity": 1, "columnPadding": 12, "titlePadding": 19, "labelOffset": 10}}}
},
{
 "data": {"name": "C"},
 "width": 796, "height": 790,
 "title": {"text": "C", "anchor": "start", "fontSize": 34, "offset": -36, "dx": 3},
 "layer": [
  {"transform": [{"filter": "false"}],
   "mark": {"type": "square", "opacity": 1},
   "encoding": {"fill": {"field": "dir", "type": "nominal", "scale": {"domain": ["downregulated","upregulated"], "range": ["#e986ae","#cc0000"]},
    "legend": {"orient": "bottom-right", "offset": 4, "title": null, "labelFontSize": 21, "labelColor": "#111", "labelLimit": 300, "symbolType": "square", "symbolSize": 400, "symbolStrokeWidth": 0, "symbolOpacity": 1, "rowPadding": 4, "labelOffset": 9}}}},
  {"transform": [{"filter": "datum.k=='g'"}],
   "mark": {"type": "point", "shape": "M-1,0A1,0.875,0,1,1,1,0A1,0.875,0,1,1,-1,0Z", "filled": true, "stroke": "#111", "strokeWidth": 2.5, "opacity": 1},
   "encoding": {
    "x": {"field": "x", "type": "quantitative", "scale": {"domain": [0, 79.6], "nice": false, "zero": false}, "axis": null},
    "y": {"field": "y", "type": "quantitative", "scale": {"domain": [0, 79.0], "nice": false, "zero": false}, "axis": null},
    "size": {"field": "v", "type": "quantitative", "scale": {"type": "linear", "domain": [0, 34], "range": [0, 28561], "zero": true}, "legend": null},
    "fill": {"field": "dir", "type": "nominal", "scale": {"domain": ["downregulated","upregulated"], "range": ["#e986ae","#cc0000"]}, "legend": null}}},
  {"transform": [{"filter": "datum.k=='g'"}],
   "mark": {"type": "text", "fontSize": 23, "color": "#111", "baseline": "middle"},
   "encoding": {
    "x": {"field": "x", "type": "quantitative", "scale": {"domain": [0, 79.6], "nice": false, "zero": false}, "axis": null},
    "y": {"field": "y", "type": "quantitative", "scale": {"domain": [0, 79.0], "nice": false, "zero": false}, "axis": null},
    "text": {"field": "gene"}}},
  {"transform": [{"filter": "datum.k=='s'"}],
   "mark": {"type": "point", "shape": "M-1,0A1,0.875,0,1,1,1,0A1,0.875,0,1,1,-1,0Z", "filled": false, "stroke": "#111", "strokeWidth": 2.5, "opacity": 1},
   "encoding": {
    "x": {"field": "x", "type": "quantitative", "scale": {"domain": [0, 79.6], "nice": false, "zero": false}, "axis": null},
    "y": {"field": "y", "type": "quantitative", "scale": {"domain": [0, 79.0], "nice": false, "zero": false}, "axis": null},
    "size": {"field": "v", "type": "quantitative", "scale": {"type": "linear", "domain": [0, 34], "range": [0, 28561], "zero": true}, "legend": null}}},
  {"transform": [{"filter": "datum.k=='sl'"}],
   "mark": {"type": "text", "fontSize": 21, "color": "#111", "baseline": "middle"},
   "encoding": {
    "x": {"field": "x", "type": "quantitative", "scale": {"domain": [0, 79.6], "nice": false, "zero": false}, "axis": null},
    "y": {"field": "y", "type": "quantitative", "scale": {"domain": [0, 79.0], "nice": false, "zero": false}, "axis": null},
    "text": {"field": "lab"}}},
  {"transform": [{"filter": "datum.k=='st'"}],
   "mark": {"type": "text", "fontSize": 23, "fontStyle": "italic", "color": "#111", "baseline": "middle"},
   "encoding": {
    "x": {"field": "x", "type": "quantitative", "scale": {"domain": [0, 79.6], "nice": false, "zero": false}, "axis": null},
    "y": {"field": "y", "type": "quantitative", "scale": {"domain": [0, 79.0], "nice": false, "zero": false}, "axis": null},
    "text": {"field": "lab"}}}
 ]
}
]
}
